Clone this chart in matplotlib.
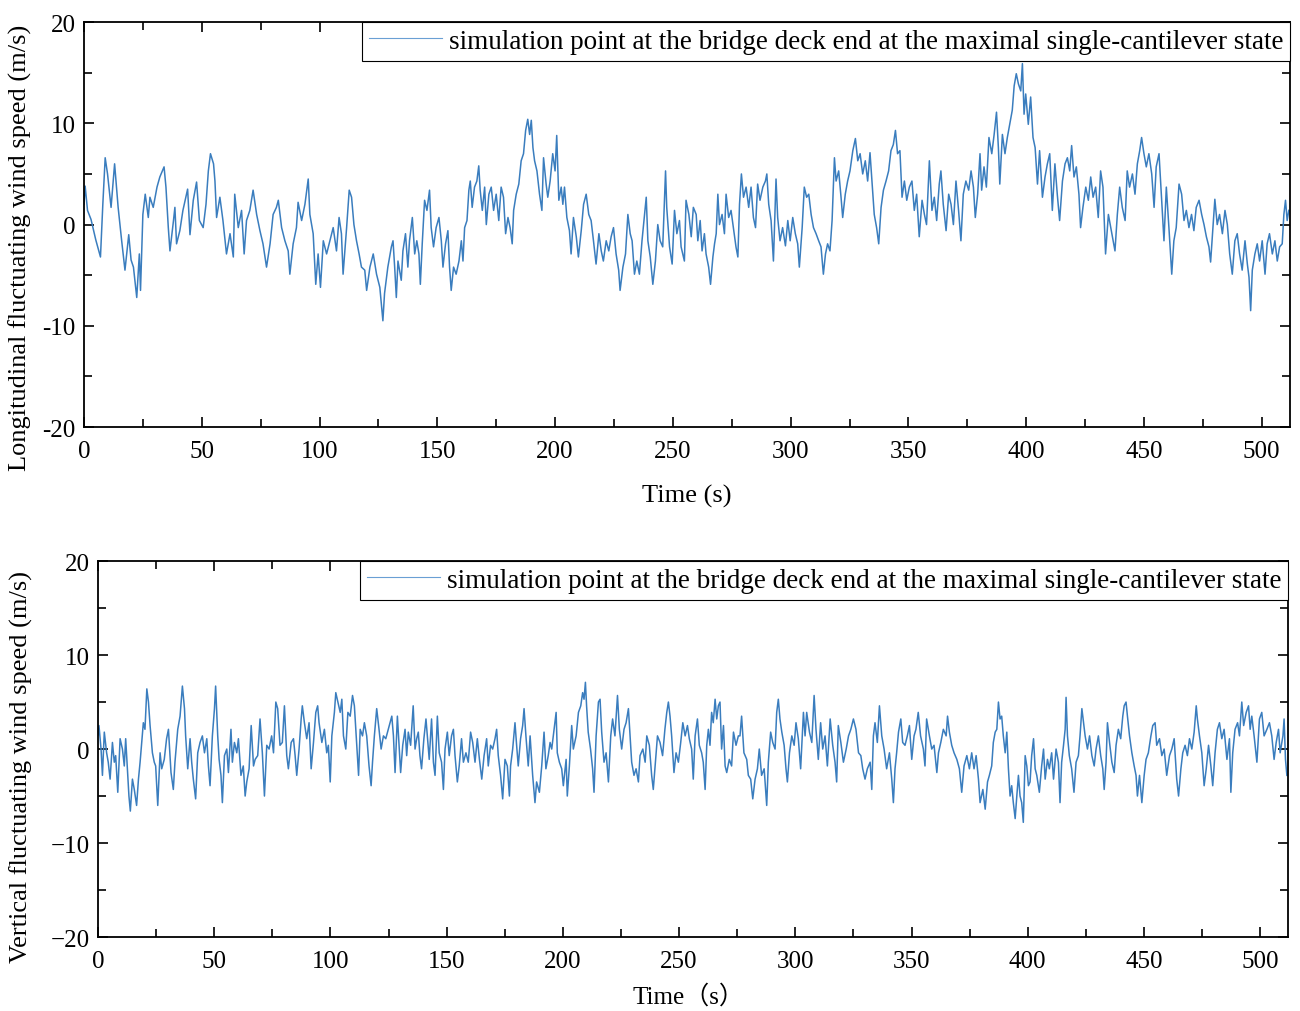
import matplotlib
matplotlib.use("Agg")
import matplotlib.pyplot as plt
from matplotlib.ticker import MultipleLocator

plt.rcParams["font.family"] = ["Liberation Serif", "DejaVu Serif"]

# longitudinal fluctuating wind speed (time s, speed m/s)
t_long = [
    0, 0.5, 1.5, 3, 5, 7, 8, 9, 10, 11.5,
    13, 14.5, 16, 17.4, 19, 20, 21, 22.4, 23.5, 24,
    25, 26, 27.3, 28, 29.4, 31, 32.2, 34, 34.8, 35.8,
    36.5, 38, 38.6, 39.3, 40.7, 42, 44, 45, 46.4, 47.8,
    49, 50.6, 51.8, 52.8, 53.7, 55, 55.6, 56.3, 57.7, 59,
    60.5, 62, 63.4, 64, 65.5, 66.9, 68, 69, 70.4, 71.8,
    73.3, 74.7, 76, 77.5, 79, 80.3, 81.7, 82.5, 83.9, 85.3,
    86.7, 87.4, 88.8, 90.2, 90.9, 92.4, 93.8, 95.2, 95.9, 97.3,
    98.4, 99.4, 100.4, 101.6, 103, 104.4, 105.8, 107.2, 108.3, 109.3,
    110, 111.5, 112.6, 113.6, 114.6, 115.7, 116.8, 117.8, 119.2, 120,
    121.4, 122.8, 124.2, 125.6, 126.9, 127.6, 129, 130.5, 131.2, 131.9,
    132.6, 133.3, 134.7, 135.4, 136.5, 137.5, 138.2, 139.4, 140.4, 141.3,
    142.2, 142.8, 143.6, 144.6, 145.6, 146.7, 147.4, 148.4, 149.5, 150.7,
    151.7, 152.4, 153.5, 154.5, 155.2, 155.9, 156.9, 158, 159.2, 160.2,
    160.9, 161.6, 162.6, 163.4, 164, 164.8, 165.8, 166.8, 167.6, 168.2,
    169.1, 170.1, 170.8, 171.9, 172.9, 173.9, 175, 176.1, 177.1, 178.1,
    179, 180, 180.9, 181.8, 182.4, 183.5, 184.6, 185.6, 186.6, 187.5,
    188.4, 189.2, 189.9, 190.6, 191.3, 192.3, 193.4, 194.4, 195.1, 196.2,
    196.9, 197.9, 199, 200, 200.7, 201.6, 202.6, 203.3, 204, 205,
    206.1, 206.8, 207.8, 209, 209.9, 211.1, 212.1, 213.2, 214.3, 215.3,
    216.3, 217.4, 218.6, 219.6, 220.5, 221.7, 222.8, 223.8, 224.8, 225.9,
    227, 227.6, 228.8, 229.9, 230.9, 231.9, 232.7, 233.7, 234.7, 235.8,
    236.9, 238, 238.7, 239.4, 240.4, 241.5, 242.6, 243.6, 244.6, 245.7,
    246.9, 247.4, 248.6, 249.7, 250.7, 251.7, 252.8, 253.5, 254.9, 255.6,
    256.8, 257.8, 258.7, 259.9, 260.6, 261.6, 262.4, 263.4, 264.1, 265.2,
    266, 267, 267.7, 268.4, 269.1, 269.8, 270.9, 271.9, 272.6, 273.7,
    274.7, 275.7, 276.8, 277.6, 278.3, 279.1, 280, 281.1, 282.2, 283.2,
    284.2, 285.1, 286, 287, 288.2, 289.3, 289.9, 290.7, 291.7, 292.7,
    293.8, 294.5, 295.5, 296.6, 297.8, 298.8, 299.8, 300.9, 302, 303,
    303.7, 304.9, 305.8, 306.8, 307.7, 308.7, 309.7, 310.8, 311.9, 312.9,
    313.9, 314.8, 315.7, 316.7, 317.6, 318.6, 319.3, 320.4, 321.4, 322.1,
    323.2, 324.2, 325.2, 326.4, 327.5, 328.5, 329.5, 330.6, 331.7, 332.7,
    333.7, 334.6, 335.5, 336.5, 337.4, 338.4, 339.4, 340.5, 341.6, 342.6,
    343.6, 344.5, 345.4, 346.4, 347.3, 348.3, 349.3, 350.4, 351.5, 352.5,
    353.5, 354.6, 355.8, 356.8, 357.7, 358.9, 360, 361, 362, 363.1,
    363.8, 364.8, 366, 367.1, 368.1, 369.1, 370.2, 371.3, 372.3, 373.3,
    374.4, 375.6, 376.6, 377.6, 378.4, 379.4, 380.4, 381.1, 382.1, 383.1,
    384.2, 385.4, 386.4, 387.4, 388.2, 388.8, 389.9, 391, 392, 393,
    394.1, 394.9, 395.8, 396.7, 397.7, 398.4, 399.1, 399.8, 400.9, 401.9,
    402.9, 403.8, 404.8, 405.7, 406.9, 408, 409, 410, 411.1, 412.2,
    413.2, 414.2, 415.4, 416.5, 417.5, 418.5, 419.3, 420.3, 421.3, 422.4,
    423.1, 424.1, 425.3, 426.4, 427.4, 428.4, 429.5, 430.6, 431.6, 432.6,
    433.7, 434.9, 435.9, 436.9, 437.7, 438.7, 439.7, 440.8, 442, 442.9,
    443.9, 445.1, 446.2, 447.2, 448.2, 449, 450, 451, 452.1, 453.3,
    454.3, 455.2, 456.4, 457.5, 458.5, 459.5, 460.6, 461.8, 462.7, 463.7,
    464.9, 466, 467, 468, 469.1, 470.2, 471.2, 472.2, 473.4, 474.5,
    475.5, 476.5, 477.6, 478.3, 479.3, 480.1, 481.1, 482.1, 483.3, 484.4,
    485.4, 486.4, 487.5, 488.6, 489.6, 490.6, 491.7, 492.9, 493.9, 494.6,
    495.3, 496, 497.1, 498.1, 499.1, 500.2, 501.4, 502.3, 503.3, 504.5,
    505.6, 506.6, 507.6, 508.7, 509.4, 510.1, 510.8, 511.5,
]
v_long = [
    2, 3.8, 1.4, 0.5, -1.5, -3.2, 2, 6.6, 5, 1.7,
    6, 1.7, -1.6, -4.5, -1, -3.5, -4.2, -7.2, -2.9, -6.5,
    1, 3, 0.7, 2.7, 1.7, 3.7, 4.7, 5.7, 3.7, -0.3,
    -2.6, 0.4, 1.7, -1.9, -0.6, 1.4, 3.5, -1, 2.4, 4.2,
    0.4, -0.3, 2, 5.3, 7, 6, 4.3, 0.7, 2.7, 0.4,
    -2.9, -0.9, -3.2, 3, -0.3, 1.4, -2.9, 0.4, 1.4, 3.4,
    1, -0.6, -1.9, -4.2, -1.9, 1, 1.7, 2.4, -0.3, -1.6,
    -2.6, -4.9, -1.9, -0.3, 2.2, 0.4, 2, 4.5, 1, -0.9,
    -5.9, -2.9, -6.2, -1.6, -2.9, -1.6, -0.3, -2.6, 0.7, -0.9,
    -4.9, -0.3, 3.4, 2.7, 0, -1.6, -2.9, -4.2, -4.5, -6.5,
    -4.2, -2.9, -4.9, -6.2, -9.5, -6.8, -4.2, -2.2, -1.6, -4.2,
    -7.2, -3.6, -5.5, -2.6, -0.9, -4.2, -1.6, 0.7, -2.9, -1.6,
    -2.9, -5.9, -1.9, 2.4, 1.4, 3.4, -0.3, -2.2, -0.3, 0.7,
    -1.6, -4.2, -1.9, -0.6, -4.2, -6.5, -4.2, -4.9, -3.6, -1.6,
    -3.6, -0.3, 0.4, 3.4, 4.3, 1.7, 3.7, 4.3, 5.8, 3.4,
    1.4, 3.7, 0, 3, 3.7, 1.4, 3, 0.4, 3.7, 2.7,
    -0.9, 0.7, -0.3, -1.9, 1.4, 3, 4, 6.3, 7, 9.3,
    10.4, 8.9, 10.3, 7.6, 6.3, 5.3, 3, 1.4, 6.6, 4,
    2.7, 4.3, 7, 5.3, 8.8, 2.4, 3.7, 2, 3.7, 0.7,
    -0.6, -2.9, 0.7, -1.2, -3.2, -0.6, 2, 3, 1, 0.4,
    -1.6, -3.9, -0.9, -2.6, -3.6, -1.6, -2.6, -1.2, -0.3, -2.9,
    -4.5, -6.5, -4.2, -2.9, 1, -0.9, -1.6, -4.9, -3.6, -4.9,
    -1.6, 1, 2.7, -1.6, -3.2, -5.9, -3.6, 0, -1.6, -2.2,
    5.3, 1.7, -2.2, -3.9, 1.4, -0.9, 0.4, -2.2, -3.6, 2.4,
    1, -1.2, 1.7, 1, -1.6, 0.4, -2.6, -0.9, -2.9, -4.2,
    -5.9, -3.2, -1.9, -0.9, 3, 0, 1, -0.9, 3, 0.7,
    1.4, -0.3, -2.2, -3.2, 2, 5, 2.7, 3.7, 1.7, 3.7,
    0.7, -0.3, 4, 2.4, 3.7, 4.3, 5, 2, 0.4, -3.6,
    4.5, 0.7, -1.6, -0.3, -2.1, 0.4, -1.6, 0.7, -0.9, -1.9,
    -4.2, -0.3, 3.7, 2.7, 3, 1, -0.3, -0.9, -1.6, -2.2,
    -4.9, -2.9, -1.9, -2.6, 0.4, 6.6, 4.3, 5.3, 2.7, 0.7,
    3, 4.3, 5.3, 7.3, 8.5, 6.3, 7, 5, 6.3, 4.3,
    7.1, 4, 1, -0.3, -1.9, 1.7, 3.4, 4.3, 5.3, 7.3,
    7.9, 9.3, 7, 7.3, 2.7, 4.3, 2.4, 3.7, 4.3, 1.4,
    3, -1.2, 2.4, 1, 0, 6.3, 1.4, 2.7, 0.4, 4,
    5.3, 2, -0.6, 3, 2, 0, 4.3, 1.4, -1.6, 3,
    4.3, 3.4, 5.3, 3.7, 0.7, 3, 7, 3.4, 5.7, 3.7,
    8.6, 7, 8.9, 11.1, 7.6, 4, 8.9, 7, 8.6, 9.9,
    11.3, 13.7, 14.9, 13.9, 13.2, 15.9, 10.9, 12.9, 9.9, 12.6,
    8.6, 7.6, 4, 7.3, 2.7, 4.7, 6, 7, 1.4, 6,
    3, 0.4, 4.3, 6, 6.6, 5.3, 7.8, 4.7, 5.7, 3,
    -0.3, 1.7, 3.7, 2.4, 4.7, 2.7, 3.7, 0.7, 5.3, 3.7,
    -2.9, 1, -0.3, -1.6, -2.6, 1, 3.7, 1.7, 0.4, 5.3,
    3.7, 5, 3, 6, 7.3, 8.6, 7, 5.7, 7, 5,
    1.7, 5.7, 7, 2.4, -1.6, 3.7, -0.3, -4.9, -1.6, -0.3,
    4, 3, 0.4, 1.4, -0.3, 1, -0.6, 1.7, 2.4, 1,
    0, -1.2, -2.2, -3.7, -0.3, 2.5, 0, 1, -0.9, 1.4,
    0, -2.9, -4.9, -1.6, -0.9, -2.9, -4.5, -1.6, -3.9, -5.2,
    -8.5, -4.5, -2.9, -1.9, -3.6, -1.6, -4.9, -1.9, -0.9, -2.9,
    -1.6, -3.6, -2.2, -1.9, 1, 2.4, 0.4, 1.4,
]

# vertical fluctuating wind speed
t_vert = [
    0, 0.4, 1.3, 1.9, 2.7, 3.7, 4.4, 5.2, 6.2, 7,
    7.6, 8.5, 9.5, 10.5, 11.3, 11.9, 12.8, 13.3, 13.9, 14.8,
    15.6, 16.6, 17.4, 18.1, 18.8, 19.5, 20.2, 21, 21.7, 22.4,
    23.4, 24.2, 24.8, 25.7, 26.7, 27.4, 28.5, 29.5, 30.3, 31.4,
    32.4, 33.1, 34.3, 35.3, 36.3, 37.2, 37.7, 38.6, 39.6, 40.3,
    41, 42, 42.9, 43.9, 44.9, 45.8, 46.8, 47.5, 48.2, 49.2,
    50.1, 50.6, 51.5, 52.1, 52.9, 53.5, 54.4, 55.4, 56.1, 57.2,
    57.8, 58.7, 59.7, 60.4, 61.5, 62.5, 63.3, 64, 65, 65.9,
    66.9, 67.6, 68.7, 69.7, 70.7, 71.6, 72.6, 73.6, 74.7, 75.5,
    76.5, 77.3, 78.3, 79.3, 80.2, 81.2, 81.9, 83.1, 84.1, 84.8,
    85.5, 86.5, 87.4, 87.9, 88.8, 89.8, 90.8, 91.7, 92.7, 93.7,
    94.5, 95.1, 96.3, 97.4, 98.4, 99.1, 99.9, 100.6, 101.7, 102.3,
    103.2, 104.2, 104.9, 105.6, 106.6, 107.5, 108.5, 109.5, 110.3, 111.3,
    112.1, 112.8, 113.8, 114.6, 115.6, 116.6, 117.5, 118.1, 118.9, 119.9,
    120.9, 121.8, 122.8, 123.8, 124.9, 125.7, 126.4, 127.1, 127.8, 128.8,
    129.6, 130.2, 131.1, 132.1, 132.8, 133.5, 134.5, 135.6, 136.4, 137.1,
    137.8, 138.5, 139.2, 140.2, 141.1, 141.7, 142.5, 143.5, 144.3, 145,
    146, 146.8, 147.8, 148.6, 149.3, 150.3, 151.1, 152.1, 152.9, 153.6,
    154.6, 155.4, 156.4, 157.2, 158.3, 159.3, 160.3, 161.2, 162.2, 163.2,
    164.1, 165.1, 166.1, 167.2, 167.9, 168.9, 169.8, 170.8, 171.5, 172.2,
    173.2, 174.1, 175.1, 176.1, 177, 177.5, 178.4, 179.4, 180.1, 180.8,
    181.8, 182.7, 183.3, 184.1, 185.1, 185.9, 187, 188, 188.7, 189.9,
    190.9, 191.9, 192.7, 193.7, 194.5, 195.2, 196.2, 197.1, 197.6, 198.5,
    199.5, 200.2, 201.4, 201.9, 202.8, 203.8, 204.5, 205.7, 206.7, 207.7,
    208.5, 209.1, 209.7, 210.2, 210.9, 211.9, 212.8, 213.4, 214.3, 215.3,
    216, 216.7, 217.7, 218.6, 219.6, 220.6, 221.4, 222.4, 223.5, 224.3,
    225.3, 226.3, 227.2, 228.2, 228.9, 229.6, 230.6, 231.5, 232.5, 233.2,
    234.4, 235.4, 236.1, 237.2, 238.2, 238.9, 239.7, 240.7, 241.8, 242.9,
    243.9, 244.7, 245.4, 246.1, 246.8, 247.8, 248.7, 249.7, 250.7, 251.6,
    252.6, 253.6, 254.4, 255.4, 256.1, 256.9, 257.9, 258.7, 259.7, 260.4,
    261.2, 261.9, 262.6, 263.3, 264, 264.7, 265.5, 266.2, 266.9, 267.6,
    268.3, 269.1, 269.8, 270.5, 271.6, 272.6, 273.4, 274.5, 275.5, 276.2,
    276.9, 277.9, 279.1, 279.8, 280.8, 281.7, 282.7, 283.7, 284.5, 285.5,
    286.6, 287.7, 288.4, 289.4, 290.3, 291.3, 292, 292.7, 293.4, 294.2,
    295.2, 296, 296.6, 297.5, 298.5, 299.5, 300.3, 301.3, 302.3, 303.5,
    304.2, 304.9, 306.1, 307.1, 308.1, 308.9, 309.9, 310.9, 311.8, 312.8,
    313.8, 315, 316.1, 317.1, 317.8, 318.5, 319.6, 320.7, 321.9, 322.9,
    323.9, 325, 326.1, 327.2, 328.2, 329, 330, 331, 332.2, 332.9,
    333.6, 334.3, 335.3, 336.2, 337.2, 338.2, 339.3, 340.5, 341.5, 342.2,
    342.9, 343.6, 344.4, 345.4, 346.2, 347.2, 348.2, 349.1, 350.1, 351.1,
    351.9, 352.9, 353.9, 355.1, 355.8, 356.5, 357.7, 358.7, 359.7, 360.9,
    361.6, 362.6, 363.7, 364.9, 365.5, 366.3, 367.3, 368.3, 369.5, 370.6,
    371.6, 372.6, 373.8, 374.9, 375.9, 376.9, 377.8, 378.8, 379.5, 380.7,
    381.7, 382.7, 383.5, 384.5, 385.2, 386, 386.7, 387.4, 388.1, 388.8,
    389.5, 390.3, 391, 391.7, 392.4, 393.1, 393.8, 394.6, 395.3, 396,
    396.7, 397.4, 398.1, 398.9, 399.6, 400.3, 401, 401.7, 402.5, 403.2,
    403.9, 405, 406, 406.8, 407.5, 408.5, 409.3, 410.3, 411.1, 412.2,
    413.2, 413.9, 414.6, 415.4, 416.1, 416.5, 417.1, 417.9, 418.9, 419.9,
    420.8, 421.8, 422.5, 423.3, 424, 424.7, 425.7, 426.6, 427.6, 428.6,
    429.4, 430.4, 431.4, 432.3, 432.9, 433.7, 434.3, 435.2, 436.2, 437.2,
    438, 439, 440, 440.9, 441.5, 442.3, 442.9, 443.8, 444.8, 445.8,
    446.6, 447.2, 448.1, 449.1, 450.1, 450.9, 451.9, 453, 453.8, 454.8,
    455.5, 456.7, 457.7, 458.7, 459.8, 461, 462, 463, 464.1, 464.9,
    465.9, 466.7, 467.7, 468.7, 469.6, 470.6, 471.6, 472.5, 473, 473.9,
    474.9, 475.9, 476.8, 477.8, 478.8, 479.6, 480.6, 481.6, 482.5, 483.5,
    484.5, 485.7, 486.8, 487.4, 488.2, 489.2, 490.3, 491.1, 492.1, 492.9,
    494, 495, 495.7, 496.4, 497.4, 498.6, 499.7, 500.7, 501.7, 502.9,
    504, 505, 506, 506.9, 507.9, 508.6, 509.8, 510.3, 510.9, 511.5,
]
v_vert = [
    1.5, 2.5, 0, -2.8, 1.8, -0.4, -1.4, -3.2, 0.7, -1.4,
    -0.7, -4.6, 1.1, 0, -1.8, 1.1, -2.8, -5, -6.6, -3.2,
    -4.3, -6, -3.2, -1.4, 0.7, 2.8, 2.1, 6.4, 5, 2.5,
    -0.4, -1.4, -1.8, -6, -0.4, -2.1, -1.1, 1.1, 2.1, -2.5,
    -4.3, -1.4, 2.1, 3.5, 6.7, 4.3, 1.4, -2.1, 1.1, -1.4,
    -3.2, -5.3, -0.4, 0.7, 1.4, -0.4, 1.1, -1.8, -3.9, 1.4,
    4.3, 6.7, 1.4, -1.1, -2.8, -5.7, -0.7, 0, -2.5, 2.1,
    -1.4, 0.7, -0.4, 1.1, -2.8, -1.8, -5, -3.5, -2.1, 2.5,
    -1.8, -1.1, -0.7, 3.2, -0.4, -5, 0.4, 0, 1.4, -0.4,
    5, 4.3, 0.4, 0.7, 4.6, -0.7, -2.1, 0.7, 1.1, -0.7,
    -2.8, 0, 3.2, 4.6, 2.8, 1.1, 2.8, -2.1, 0.7, 3.9,
    4.6, 2.8, 0.7, 2.1, -0.4, 0.4, -3.5, 1.4, 3.9, 6,
    5, 3.9, 5.3, 1.4, 0, 3.9, 3.5, 5.7, 4.6, 0.4,
    -2.8, 2.1, 1.4, 2.8, 1.4, -1.8, -3.9, -1.4, 1.4, 4.3,
    2.1, 0, 1.4, 1.1, 2.1, 2.8, 3.5, 1.4, -2.5, 3.5,
    0, -2.5, 0.4, 2.1, -0.7, 1.8, 0.4, 4.6, 0, 1.1,
    1.8, -0.7, -2.1, 1.1, 3.2, 1.4, -1.1, 3.2, -1.4, -2.8,
    3.5, -0.4, -1.4, -4.3, 0, 1.8, -0.7, 1.4, 2.1, -0.7,
    -3.5, -1.8, 1.1, -1.4, -0.4, -1.4, 1.8, 0.7, -1.4, 1.1,
    -1.1, -3.2, -0.7, 1.1, -1.8, 0.4, 0, 1.1, 2.1, -0.7,
    -2.8, -5.3, -1.1, -1.8, -5, -1.8, 0, 2.8, 0.4, -1.8,
    1.1, 2.5, 4.3, 1.4, -1.8, 1.4, -2.8, -5.7, -3.5, -4.6,
    -1.8, 1.8, -2.1, -0.7, 0.7, 0, 2.1, 3.9, -0.4, -1.4,
    -2.1, -3.9, -1.1, -5, -1.8, 2.5, 0, 1.4, 3.9, 4.6,
    6, 5.3, 7.1, 4.6, 1.8, 0, -2.1, -4.6, 1.4, 5,
    5.3, 1.8, -1.4, -0.4, -3.5, 1.4, 3.2, 1.4, 5.7, 2.1,
    0, 2.1, 2.8, 4.3, 1.4, -1.4, -2.8, -2.1, -3.5, -0.7,
    0, -1.4, 1.4, 0.4, -2.8, -4.3, -1.8, 1.4, 0.7, -0.7,
    2.1, 3.9, 5, 3.5, 1.4, -2.5, -0.4, -1.4, 0.7, 2.8,
    1.4, 2.5, 1.1, 0, -3.2, 1.4, 3.2, 0.4, -0.4, -1.4,
    -4.3, 0.4, 2.1, 0.4, 3.9, 2.8, 5.3, 3.2, 4.6, 5,
    0, 2.5, -1.8, -2.5, -1.1, -1.8, 1.8, 0.4, 1.4, 1.4,
    3.5, -0.4, -1.1, -2.8, -3.2, -5.3, -3.2, -2.1, 0, -2.8,
    -2.1, -6, -1.4, 1.8, 0.7, 0, 3.9, 5.3, 3.2, 1.8,
    0.4, -2.1, -3.5, -0.4, 1.4, 0.4, 2.8, 1.1, -2.1, 3.9,
    1.4, 3.9, 1.8, 0.7, 5.7, 2.1, -1.1, 2.8, 0, 1.4,
    -1.8, 3.2, 0.4, -1.4, -3.5, 2.5, 0.7, -1.4, 0, 1.4,
    2.1, 3.2, 2.1, -0.4, -0.7, -2.1, -3.2, -2.1, -1.4, -4.3,
    1.4, 2.8, 0.7, 4.6, 1.4, 0, -2.1, -0.4, -3.2, -5.7,
    -2.1, -0.4, 1.8, 3.2, 0.7, 0.4, 1.4, 2.5, -1.1, 1.4,
    2.1, 3.9, 1.4, 0, -1.8, 3.2, 1.4, 0, 0.4, -2.5,
    -0.4, 0.7, 2.1, 1.4, 3.5, 1.8, 0.4, -0.4, -1.1, -2.1,
    -4.6, -1.8, -0.7, -2.1, -0.4, -2.1, -0.7, -3.2, -5.7, -4.3,
    -6.4, -3.5, -2.8, -1.8, 0.7, 1.8, 2.1, 5, 3.2, 3.5,
    1.4, -0.4, 1.8, -2.1, -5, -3.9, -5.7, -7.4, -5, -2.8,
    -5, -5.7, -7.8, -0.7, -1.8, -3.9, -3.5, -0.7, 1.1, -2.1,
    -2.8, -4.6, -1.8, 0, -3.2, -1.1, -2.1, -0.4, -3.2, 0,
    -1.4, -5.7, -1.4, 0.4, 2.1, 5.5, 1.4, -0.7, -2.1, -4.6,
    -1.4, -0.7, 1.4, 4.3, 2.8, 1.4, 0, 1.4, -0.7, -1.8,
    0, 1.4, -0.7, -2.1, -4.3, -1.4, 2.8, 0.7, -1.4, -2.5,
    0.4, 2.1, 1.1, 3.5, 4.6, 5, 3.5, 1.4, -0.4, -1.8,
    -2.8, -5, -2.8, -5.7, -2.8, -1.1, -0.4, 1.4, 2.5, 2.8,
    0.4, 1.1, -0.7, 0, -2.8, -0.7, 0, 1.1, -3.2, -5,
    -2.1, -0.4, 0.4, -0.7, 1.1, 0, 1.8, 4.6, 3.2, 1.4,
    -0.4, -3.9, -2.1, 0.4, -1.8, -3.9, -0.4, 2.1, 2.8, 1.1,
    2.1, -1.1, 1.1, -4.6, -0.4, 2.1, 2.8, 1.4, 5, 2.5,
    3.9, 4.6, 2.1, 3.5, 1.4, -1.4, 3.2, 3.9, 1.4, 2.1,
    2.8, 1.4, -1.1, 0.7, 2.1, -0.4, 1.4, 3.2, -1.1, -2.8,
]

legend_text = "simulation point at the bridge deck end at the maximal single-cantilever state"
line_color = "#3a7dbe"

fig = plt.figure(figsize=(13, 10.12), dpi=100)
ax1 = fig.add_axes([0.0646, 0.577, 0.9277, 0.4002])
ax2 = fig.add_axes([0.0754, 0.0731, 0.9154, 0.3715])


def style_axis(ax, ylabels):
    ax.set_xlim(0, 512)
    ax.set_ylim(-20, 20)
    ax.xaxis.set_major_locator(MultipleLocator(50))
    ax.xaxis.set_minor_locator(MultipleLocator(25))
    ax.set_yticks([-20, -10, 0, 10, 20])
    ax.set_yticklabels(ylabels)
    ax.yaxis.set_minor_locator(MultipleLocator(5))
    ax.tick_params(which="both", direction="in", top=True, right=True,
                   labelsize=18, width=1.2, pad=6)
    ax.tick_params(axis="x", which="both", pad=9)
    ax.tick_params(which="major", length=7)
    ax.tick_params(which="minor", length=6)
    for sp in ax.spines.values():
        sp.set_linewidth(1.3)
    leg = ax.legend(loc="upper right", borderaxespad=0, fontsize=19.5,
                    fancybox=False, framealpha=1, handlelength=2.7,
                    borderpad=0.25, handletextpad=0.25)
    leg.get_frame().set_edgecolor("black")
    leg.get_frame().set_linewidth(0.8)
    for h in leg.get_lines():
        h.set_linewidth(0.8)
        h.set_color("#6a9fd4")


ax1.plot(t_long, v_long, color=line_color, lw=1.1, label=legend_text)
style_axis(ax1, ["-20", "-10", "0", "10", "20"])
ax1.set_xlabel("Time (s)", fontsize=19)
ax1.xaxis.set_label_coords(0.5, -0.14)
ax1.set_ylabel("Longitudinal fluctuating wind speed (m/s)", fontsize=19)
ax1.yaxis.set_label_coords(-0.043, 0.444)

ax2.plot(t_vert, v_vert, color=line_color, lw=1.1, label=legend_text)
style_axis(ax2, ["\u221220", "\u221210", "0", "10", "20"])
ax2.set_xlabel("Time\uff08s\uff09", fontsize=18,
               family=["Liberation Serif", "Noto Sans CJK SC"])
ax2.xaxis.set_label_coords(0.496, -0.125)
ax2.set_ylabel("Vertical fluctuating wind speed (m/s)", fontsize=19)
ax2.yaxis.set_label_coords(-0.055, 0.455)

fig.savefig("out.png", dpi=100)
